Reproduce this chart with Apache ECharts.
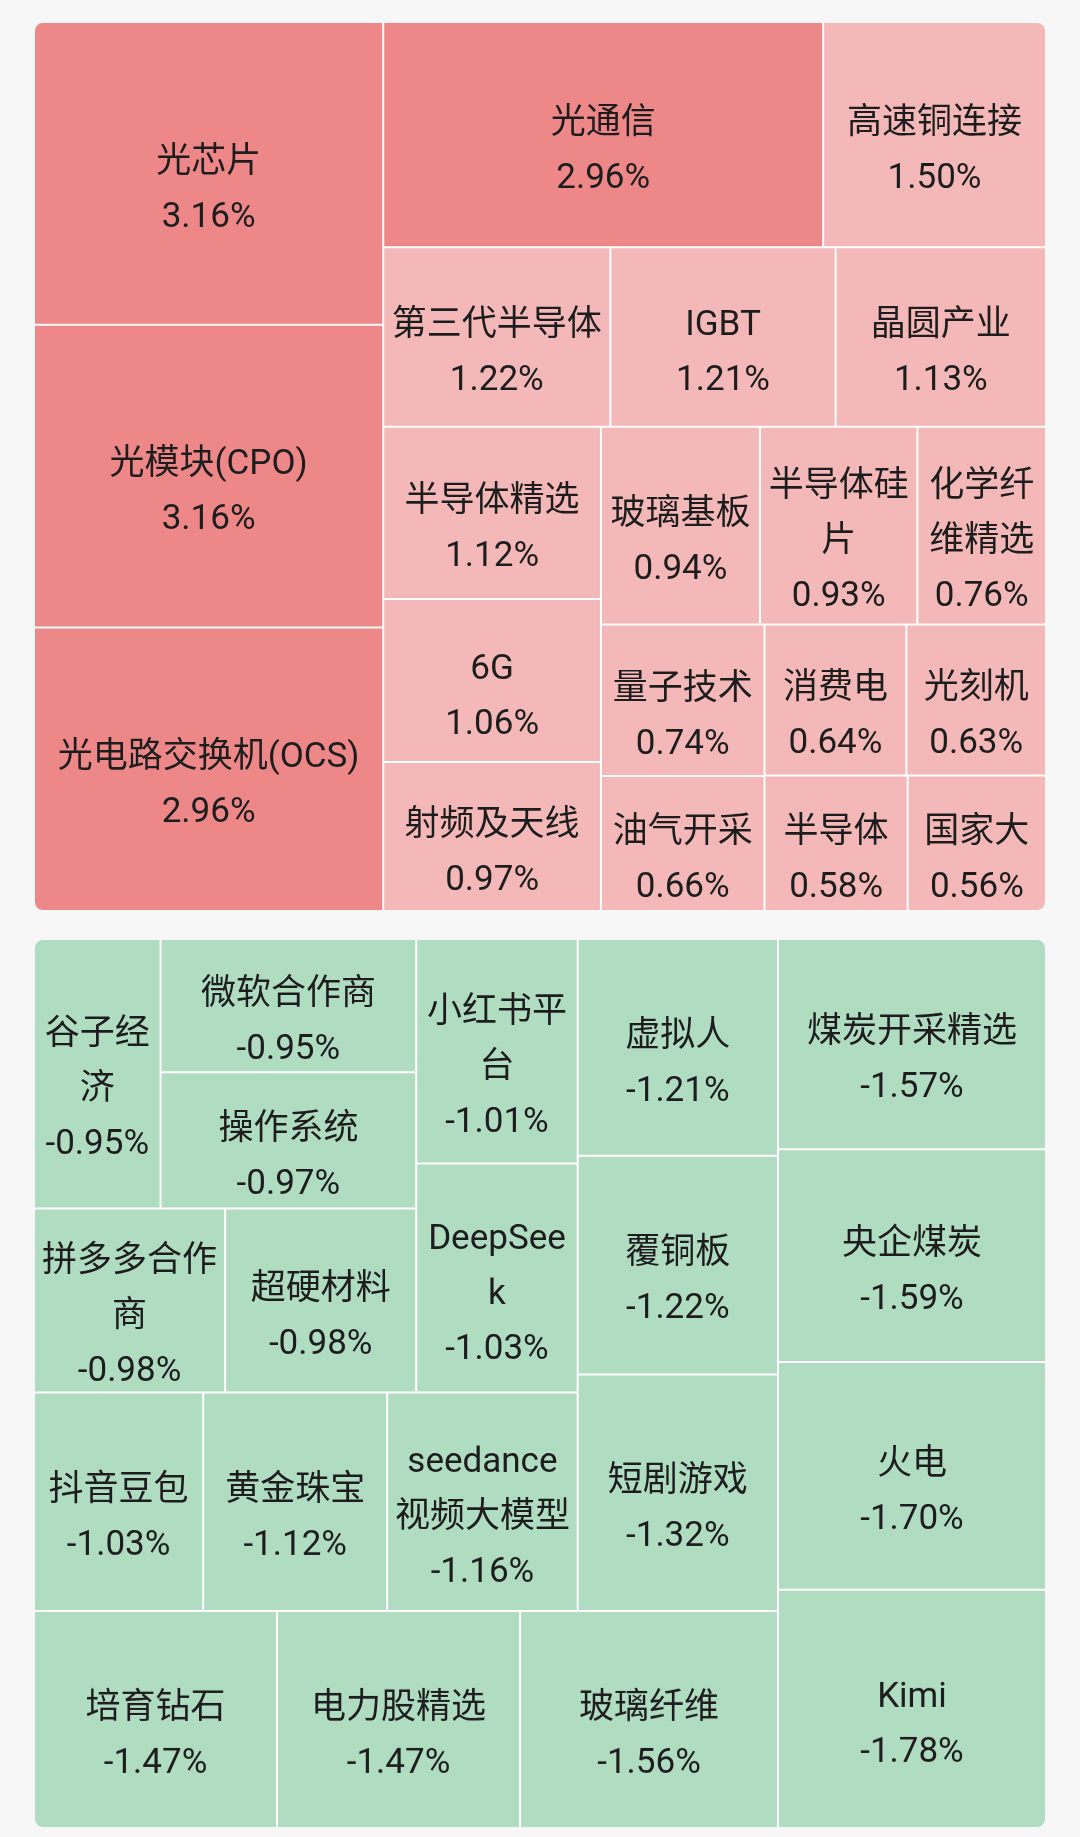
<!DOCTYPE html>
<html>
<head>
<meta charset="utf-8">
<script src="https://cdn.jsdelivr.net/npm/echarts@6/dist/echarts.min.js"></script>
<style>
html,body{margin:0;padding:0;background:#f7f7f7;width:1080px;height:1837px;overflow:hidden;}
.box{position:absolute;left:35px;width:1010px;height:887px;border-radius:8px;overflow:hidden;}
#up{top:23px;}
#down{top:940px;transform:rotate(180deg);}
</style>
</head>
<body>
<div id="up" class="box"></div>
<div id="down" class="box"></div>
<script>
// Gainers (listed largest first; ties in on-screen order)
const upNames = ['光芯片','光模块(CPO)','光电路交换机(OCS)','光通信','高速铜连接','第三代半导体','IGBT','晶圆产业','半导体精选','6G','射频及天线','玻璃基板','半导体硅片','化学纤维精选','量子技术','油气开采','消费电','光刻机','半导体','国家大'];
const upValues = [3.16,3.16,2.96,2.96,1.50,1.22,1.21,1.13,1.12,1.06,0.97,0.94,0.93,0.76,0.74,0.66,0.64,0.63,0.58,0.56];

// Losers (listed largest drop first)
const downNames = ['Kimi','火电','央企煤炭','煤炭开采精选','玻璃纤维','电力股精选','培育钻石','短剧游戏','覆铜板','虚拟人','seedance视频大模型','黄金珠宝','抖音豆包','DeepSeek','小红书平台','超硬材料','拼多多合作商','操作系统','微软合作商','谷子经济'];
const downValues = [-1.78,-1.70,-1.59,-1.57,-1.56,-1.47,-1.47,-1.32,-1.22,-1.21,-1.16,-1.12,-1.03,-1.03,-1.01,-0.98,-0.98,-0.97,-0.95,-0.95];

const FONT = 'Roboto, "Noto Sans CJK SC", sans-serif';
const TEXT = '#1d1d1d';

function cellColor(v) {
  if (v < 0) return '#b0dcc2';
  return v >= 2 ? '#ee8788' : '#f5b8b8';
}
function fmt(v) { return v.toFixed(2) + '%'; }

function build(names, values) {
  return names.map((n, i) => ({
    name: n,
    value: Math.abs(values[i]),
    pct: values[i],
    itemStyle: { color: cellColor(values[i]) }
  }));
}

function makeOption(names, values, flipped) {
  return {
    animation: false,
    series: [{
      type: 'treemap',
      left: 0, top: 0, width: '100%', height: '100%',
      roam: false,
      nodeClick: false,
      sort: false,
      squareRatio: 1,
      breadcrumb: { show: false },
      upperLabel: { show: false },
      emphasis: { disabled: true },
      itemStyle: { borderWidth: 0, gapWidth: 2, borderColor: '#ffffff' },
      label: {
        show: true,
        position: 'inside',
        overflow: 'break',
        rotate: flipped ? 180 : 0,
        offset: [0, 17],
        fontSize: 35,
        lineHeight: 55,
        color: TEXT,
        fontFamily: FONT,
        formatter: p => p.name + '\n' + fmt(p.data.pct)
      },
      data: build(names, values)
    }]
  };
}

const upChart = echarts.init(document.getElementById('up'), null, { renderer: 'canvas' });
upChart.setOption(makeOption(upNames, upValues, false));
const downChart = echarts.init(document.getElementById('down'), null, { renderer: 'canvas' });
downChart.setOption(makeOption(downNames, downValues, true));
</script>
</body>
</html>
